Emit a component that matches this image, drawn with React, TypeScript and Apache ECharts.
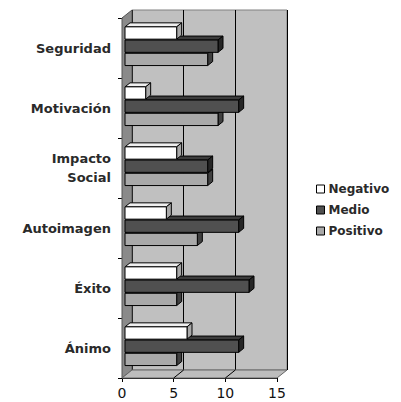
import React, { useEffect, useRef } from "react";
import * as echarts from "echarts";

const categories = ["Ánimo", "Éxito", "Autoimagen", "Impacto\nSocial", "Motivación", "Seguridad"];
const negativo = [6, 5, 4, 5, 2, 5];
const medio = [11, 12, 11, 8, 11, 9];
const positivo = [5, 5, 7, 8, 9, 8];
const xTicks = [0, 5, 10, 15];
const seriesNames = ["Negativo", "Medio", "Positivo"];

const FRONT = { left: 122, top: 18, width: 155, height: 360 };
const DX = 10;
const DY = 8;
const BACK = { left: FRONT.left + DX, top: FRONT.top - DY, width: FRONT.width, height: FRONT.height };
const FONT = "DejaVu Sans";

const STYLES: Record<string, { front: string; top: string; side: string }> = {
  Negativo: { front: "#ffffff", top: "#f0f0f0", side: "#a8a8a8" },
  Medio: { front: "#505050", top: "#3c3c3c", side: "#262626" },
  Positivo: { front: "#a9a9a9", top: "#949494", side: "#404040" },
};

function makeRender(slot: number, st: { front: string; top: string; side: string }) {
  return (params: any, api: any) => {
    const v = api.value(0);
    const c = api.value(1);
    const p0 = api.coord([0, c]);
    const p1 = api.coord([v, c]);
    const band = api.size([0, 1])[1];
    const h = band * 0.205;
    const pitch = band * 0.22;
    const cy = p0[1] - band * 0.03 + (slot - 1) * pitch;
    const off = 3;
    const sx = 5;
    const sy = 4;
    const x0 = p0[0] + off;
    const x1 = p1[0] + off;
    const y0 = cy - h / 2;
    const y1 = cy + h / 2;
    const stroke = { stroke: "#000", lineWidth: 1 };
    return {
      type: "group",
      children: [
        {
          type: "polygon",
          shape: { points: [[x0, y0], [x0 + sx, y0 - sy], [x1 + sx, y0 - sy], [x1, y0]] },
          style: { fill: st.top, ...stroke },
        },
        {
          type: "polygon",
          shape: { points: [[x1, y0], [x1 + sx, y0 - sy], [x1 + sx, y1 - sy], [x1, y1]] },
          style: { fill: st.side, ...stroke },
        },
        {
          type: "rect",
          shape: { x: x0, y: y0, width: x1 - x0, height: h },
          style: { fill: st.front, ...stroke },
        },
      ],
    };
  };
}

export default function App() {
  const ref = useRef<HTMLDivElement>(null);
  useEffect(() => {
    if (!ref.current) return;
    const chart = echarts.init(ref.current, undefined, { renderer: "svg" });
    const valuesByName: Record<string, number[]> = {
      Negativo: negativo,
      Medio: medio,
      Positivo: positivo,
    };
    const drawOrder = ["Positivo", "Medio", "Negativo"];
    const series = drawOrder.map((name) => ({
      type: "custom",
      name,
      xAxisIndex: 1,
      yAxisIndex: 1,
      itemStyle: { color: STYLES[name].front, borderColor: "#000", borderWidth: 1 },
      renderItem: makeRender(seriesNames.indexOf(name), STYLES[name]),
      encode: { x: 0, y: 1 },
      data: valuesByName[name].map((v, i) => [v, i]),
      z: 5,
    }));

    chart.setOption({
      animation: false,
      backgroundColor: "#ffffff",
      grid: [
        {
          left: BACK.left,
          top: BACK.top,
          width: BACK.width,
          height: BACK.height,
          show: true,
          backgroundColor: "#c0c0c0",
          borderColor: "#808080",
          borderWidth: 1,
        },
        { left: FRONT.left, top: FRONT.top, width: FRONT.width, height: FRONT.height },
      ],
      xAxis: [
        {
          gridIndex: 0,
          type: "value",
          min: xTicks[0],
          max: xTicks[xTicks.length - 1],
          interval: xTicks[1] - xTicks[0],
          axisLine: { show: false },
          axisTick: { show: false },
          axisLabel: { show: false },
          splitLine: { show: true, lineStyle: { color: "#000", width: 1 } },
        },
        {
          gridIndex: 1,
          type: "value",
          min: xTicks[0],
          max: xTicks[xTicks.length - 1],
          interval: xTicks[1] - xTicks[0],
          axisLine: { show: true, lineStyle: { color: "#000", width: 1 } },
          axisTick: { show: true, length: 4, lineStyle: { color: "#000" } },
          axisLabel: { show: true, fontSize: 14, fontFamily: FONT, color: "#111", margin: 8 },
          splitLine: { show: false },
        },
      ],
      yAxis: [
        { gridIndex: 0, type: "category", data: categories, show: false },
        {
          gridIndex: 1,
          type: "category",
          data: categories,
          axisLine: { show: true, onZero: false, lineStyle: { color: "#000", width: 1 } },
          axisTick: { show: true, length: 4, lineStyle: { color: "#000" } },
          axisLabel: {
            show: true,
            fontSize: 13,
            fontWeight: "bold",
            fontFamily: FONT,
            color: "#2a2a2a",
            margin: 11,
            lineHeight: 19,
            align: "right",
          },
          splitLine: { show: false },
        },
      ],
      legend: {
        orient: "vertical",
        left: 311,
        top: 177,
        itemWidth: 8,
        itemHeight: 8,
        itemGap: 7,
        icon: "rect",
        textStyle: {
          fontSize: 12,
          fontWeight: "bold",
          fontFamily: FONT,
          color: "#2a2a2a",
          lineHeight: 14,
          padding: [0, 0, 0, -1],
        },
        data: seriesNames.map((n) => ({
          name: n,
          itemStyle: { color: STYLES[n].front, borderColor: "#000", borderWidth: 1 },
        })),
      },
      series,
    });

    const yBottomFront = FRONT.top + FRONT.height;
    const yBottomBack = BACK.top + BACK.height;
    const floorLines = xTicks.slice(1, -1).map((t) => {
      const xf = chart.convertToPixel({ xAxisIndex: 1 }, t) as number;
      const xb = chart.convertToPixel({ xAxisIndex: 0 }, t) as number;
      return {
        type: "line",
        z: 1,
        shape: { x1: xf, y1: yBottomFront, x2: xb, y2: yBottomBack },
        style: { stroke: "#000", lineWidth: 1 },
      };
    });
    chart.setOption({
      graphic: [
        {
          type: "polygon",
          z: 1,
          shape: {
            points: [
              [FRONT.left, FRONT.top],
              [BACK.left, BACK.top],
              [BACK.left, yBottomBack],
              [FRONT.left, yBottomFront],
            ],
          },
          style: { fill: "#8a8a8a", stroke: "#555", lineWidth: 1 },
        },
        {
          type: "polygon",
          z: 1,
          shape: {
            points: [
              [FRONT.left, yBottomFront],
              [BACK.left, yBottomBack],
              [BACK.left + BACK.width, yBottomBack],
              [FRONT.left + FRONT.width, yBottomFront],
            ],
          },
          style: { fill: "#bdbdbd", stroke: "#666", lineWidth: 1 },
        },
        ...floorLines,
      ],
    });
    return () => chart.dispose();
  }, []);
  return (
    <div
      ref={ref}
      style={{ position: "fixed", left: 0, top: 0, width: 401, height: 402, background: "#fff" }}
    />
  );
}
